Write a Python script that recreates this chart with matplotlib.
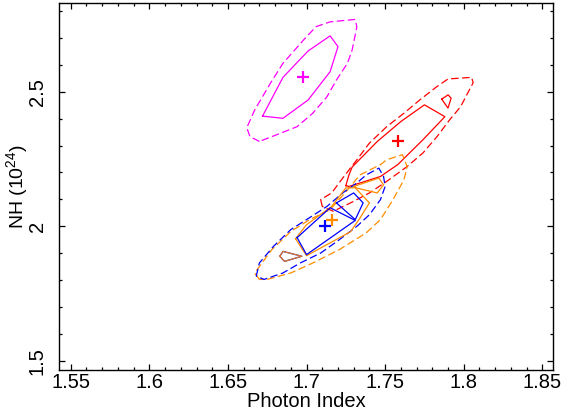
import matplotlib
matplotlib.use('Agg')
import matplotlib.pyplot as plt
from matplotlib.ticker import MultipleLocator

plt.rcParams['font.family'] = ['Liberation Sans', 'DejaVu Sans']
plt.rcParams['mathtext.default'] = 'regular'

# best-fit points (photon index, NH in 1e24)
best_gamma = [1.698, 1.758, 1.712, 1.716]
best_nh = [2.553, 2.315, 2.003, 2.025]
best_colors = ['#ff00ff', '#ff0000', '#0000ff', '#ff8c00']

# magenta contours
mag_solid_x = [1.672, 1.685, 1.701, 1.715, 1.720, 1.715, 1.701, 1.685]
mag_solid_y = [2.409, 2.401, 2.469, 2.574, 2.667, 2.707, 2.651, 2.553]
mag_dash_x = [1.670, 1.664, 1.662, 1.667, 1.677, 1.685, 1.698, 1.706, 1.715,
              1.731, 1.732, 1.729, 1.726, 1.719, 1.713, 1.704, 1.694, 1.681]
mag_dash_y = [2.315, 2.333, 2.366, 2.432, 2.531, 2.605, 2.691, 2.741, 2.759,
              2.768, 2.740, 2.654, 2.605, 2.543, 2.481, 2.420, 2.370, 2.340]

# red contours
red_solid_x = [1.725, 1.727, 1.729, 1.745, 1.760, 1.775, 1.788, 1.774, 1.758, 1.747, 1.727]
red_solid_y = [2.151, 2.191, 2.220, 2.315, 2.389, 2.451, 2.407, 2.321, 2.229, 2.185, 2.148]
red_island_x = [1.786, 1.790, 1.792, 1.790]
red_island_y = [2.472, 2.488, 2.476, 2.439]
red_dash_x = [1.710, 1.709, 1.716, 1.723, 1.732, 1.740, 1.751, 1.762, 1.772, 1.783, 1.790,
              1.805, 1.806, 1.803, 1.798, 1.791, 1.783, 1.774, 1.764, 1.751, 1.740, 1.728, 1.717]
red_dash_y = [2.074, 2.099, 2.124, 2.179, 2.247, 2.309, 2.370, 2.420, 2.469, 2.519, 2.547,
              2.553, 2.533, 2.500, 2.444, 2.395, 2.333, 2.272, 2.222, 2.167, 2.124, 2.087, 2.056]

# blue contours
blue_solid_x = [1.694, 1.715, 1.731, 1.700]
blue_solid_y = [1.958, 2.069, 2.022, 1.895]
blue_island_x = [1.719, 1.730, 1.736, 1.731]
blue_island_y = [2.087, 2.124, 2.087, 2.025]
blue_dash_x = [1.668, 1.670, 1.679, 1.690, 1.700, 1.713, 1.723, 1.732, 1.738, 1.746, 1.749,
               1.750, 1.747, 1.740, 1.732, 1.721, 1.709, 1.696, 1.685, 1.673]
blue_dash_y = [1.815, 1.864, 1.926, 1.988, 2.025, 2.074, 2.124, 2.161, 2.191, 2.216, 2.185,
               2.148, 2.099, 2.043, 2.000, 1.951, 1.901, 1.864, 1.827, 1.803]

# orange contours
orng_solid_x = [1.693, 1.700, 1.716, 1.725, 1.731, 1.740, 1.734, 1.728, 1.700]
orng_solid_y = [1.954, 2.006, 2.074, 2.143, 2.143, 2.087, 2.031, 1.980, 1.891]
orng_island_x = [1.730, 1.746, 1.749, 1.745, 1.732]
orng_island_y = [2.148, 2.179, 2.154, 2.124, 2.142]
orng_dash_x = [1.670, 1.667, 1.678, 1.690, 1.702, 1.715, 1.725, 1.734, 1.747, 1.751, 1.761,
               1.764, 1.762, 1.755, 1.747, 1.738, 1.721, 1.704, 1.690, 1.675]
orng_dash_y = [1.803, 1.827, 1.914, 1.981, 2.025, 2.062, 2.128, 2.191, 2.229, 2.247, 2.266,
               2.222, 2.173, 2.099, 2.025, 1.976, 1.914, 1.864, 1.827, 1.803]

# small island at lower left (blue and orange overlap)
low_island_x = [1.683, 1.685, 1.697, 1.686]
low_island_y = [1.889, 1.907, 1.889, 1.870]


def closed(xs, ys):
    return list(xs) + [xs[0]], list(ys) + [ys[0]]


def draw(ax, xs, ys, color, dashed=False, alpha=1.0):
    cx, cy = closed(xs, ys)
    if dashed:
        ax.plot(cx, cy, color=color, lw=0.9, dashes=(6, 2.8), alpha=alpha)
    else:
        ax.plot(cx, cy, color=color, lw=0.9, alpha=alpha)


fig = plt.figure(figsize=(5.63, 4.19), dpi=100)
ax = fig.add_axes([0.1053, 0.1169, 0.8764, 0.8766])

draw(ax, mag_solid_x, mag_solid_y, '#ff00ff')
draw(ax, mag_dash_x, mag_dash_y, '#ff00ff', dashed=True)

draw(ax, red_solid_x, red_solid_y, '#ff0000')
draw(ax, red_island_x, red_island_y, '#ff0000')
draw(ax, red_dash_x, red_dash_y, '#ff0000', dashed=True)

draw(ax, orng_dash_x, orng_dash_y, '#ff8c00', dashed=True)
draw(ax, blue_dash_x, blue_dash_y, '#0000ff', dashed=True)
draw(ax, orng_solid_x, orng_solid_y, '#ff8c00')
draw(ax, orng_island_x, orng_island_y, '#ff8c00')
draw(ax, blue_solid_x, blue_solid_y, '#0000ff')
draw(ax, blue_island_x, blue_island_y, '#0000ff')
draw(ax, low_island_x, low_island_y, '#0000ff')
draw(ax, low_island_x, low_island_y, '#ff8c00', alpha=0.85)

for g, n, c in zip(best_gamma, best_nh, best_colors):
    ax.plot(g, n, marker='+', color=c, ms=8, mew=1.6, ls='none')

ax.set_xlim(1.5427, 1.8566)
ax.set_ylim(1.4667, 2.83)

ax.xaxis.set_minor_locator(MultipleLocator(0.01))
ax.yaxis.set_minor_locator(MultipleLocator(0.1))
ax.set_xticks([1.55, 1.6, 1.65, 1.7, 1.75, 1.8, 1.85])
ax.set_xticklabels(['1.55', '1.6', '1.65', '1.7', '1.75', '1.8', '1.85'])
ax.set_yticks([1.5, 2.0, 2.5])
ax.set_yticklabels(['1.5', '2', '2.5'], rotation=90, va='center')

ax.tick_params(which='both', direction='in', top=True, right=True,
               labelsize=14.5, width=0.9, color='black')
ax.tick_params(which='major', length=4.5)
ax.tick_params(which='minor', length=2.3)
ax.tick_params(axis='x', pad=2)
ax.tick_params(axis='y', pad=9)
for sp in ax.spines.values():
    sp.set_linewidth(1.0)

ax.set_xlabel('Photon Index', fontsize=14.5, labelpad=0.5)
ax.set_ylabel('NH (10$^{24}$)', fontsize=14, labelpad=-1.5)

fig.savefig('out.png', dpi=100)
